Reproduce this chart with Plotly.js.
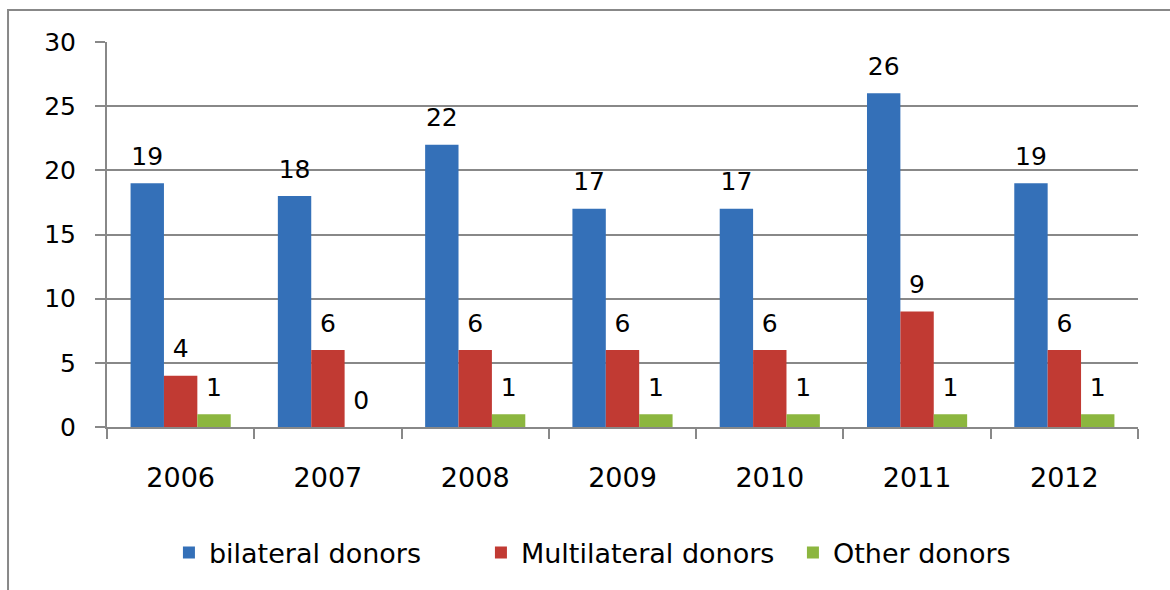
<!DOCTYPE html>
<html>
<head>
<meta charset="utf-8">
<script src="https://cdn.plot.ly/plotly-3.0.1.min.js"></script>
<style>html,body{margin:0;padding:0;background:#fff;}#chart{width:1170px;height:590px;}</style>
</head>
<body>
<div id="chart"></div>
<script>
var years = ["2006", "2007", "2008", "2009", "2010", "2011", "2012"];
var bilateral = [19, 18, 22, 17, 17, 26, 19];
var multilateral = [4, 6, 6, 6, 6, 9, 6];
var other = [1, 0, 1, 1, 1, 1, 1];
var seriesNames = ["bilateral donors", "Multilateral donors", "Other donors"];
var seriesColors = ["#3470b8", "#c13a33", "#8cb63f"];

var font = "'DejaVu Sans', sans-serif";
var series = [bilateral, multilateral, other];
var traces = [];
series.forEach(function (vals, i) {
  traces.push({
    type: "bar",
    name: seriesNames[i],
    x: years,
    y: vals,
    marker: {color: seriesColors[i]}
  });
});
// value labels, grouped like the bars, lifted above each bar
series.forEach(function (vals, i) {
  traces.push({
    type: "scatter",
    mode: "markers+text",
    showlegend: false,
    hoverinfo: "skip",
    x: years,
    y: vals,
    text: vals.map(String),
    textposition: "top center",
    cliponaxis: false,
    textfont: {family: font, size: 25, color: "#000"},
    marker: {size: 18, opacity: 0, color: seriesColors[i]}
  });
});

var layout = {
  width: 1170, height: 590,
  margin: {l: 107, r: 32, t: 42, b: 163},
  paper_bgcolor: "#fff", plot_bgcolor: "#fff",
  barmode: "group",
  bargap: 0.32,
  bargroupgap: 0,
  scattermode: "group",
  scattergap: 0.32,
  font: {family: font, size: 25, color: "#000"},
  showlegend: true,
  legend: {orientation: "h", x: 0.514, xanchor: "center", y: -0.327, yanchor: "middle",
           font: {family: font, size: 27, color: "#000"}, itemwidth: 30, tracegroupgap: 0,
           entrywidth: 267, entrywidthmode: "pixels"},
  xaxis: {
    type: "category", showline: true, linecolor: "#888", linewidth: 2,
    ticks: "outside", tickson: "boundaries", ticklen: 10, tickcolor: "#888", tickwidth: 2,
    ticklabelstandoff: 26, showgrid: false, zeroline: false,
    tickfont: {family: font, size: 27, color: "#000"}
  },
  yaxis: {
    range: [0, 30], dtick: 5, showline: true, linecolor: "#888", linewidth: 2,
    ticks: "outside", ticklen: 10, tickcolor: "#888", tickwidth: 2,
    gridcolor: "#888", gridwidth: 2, zeroline: false, ticklabelstandoff: 14,
    tickfont: {family: font, size: 25, color: "#000"}
  },
  shapes: [{
    type: "rect", xref: "paper", yref: "paper",
    x0: -0.096, x1: 1.2, y0: -0.6, y1: 1.083,
    line: {color: "#888", width: 2}, fillcolor: "rgba(0,0,0,0)", layer: "below"
  }]
};

Plotly.newPlot("chart", traces, layout, {displayModeBar: false, staticPlot: true});
</script>
</body>
</html>
